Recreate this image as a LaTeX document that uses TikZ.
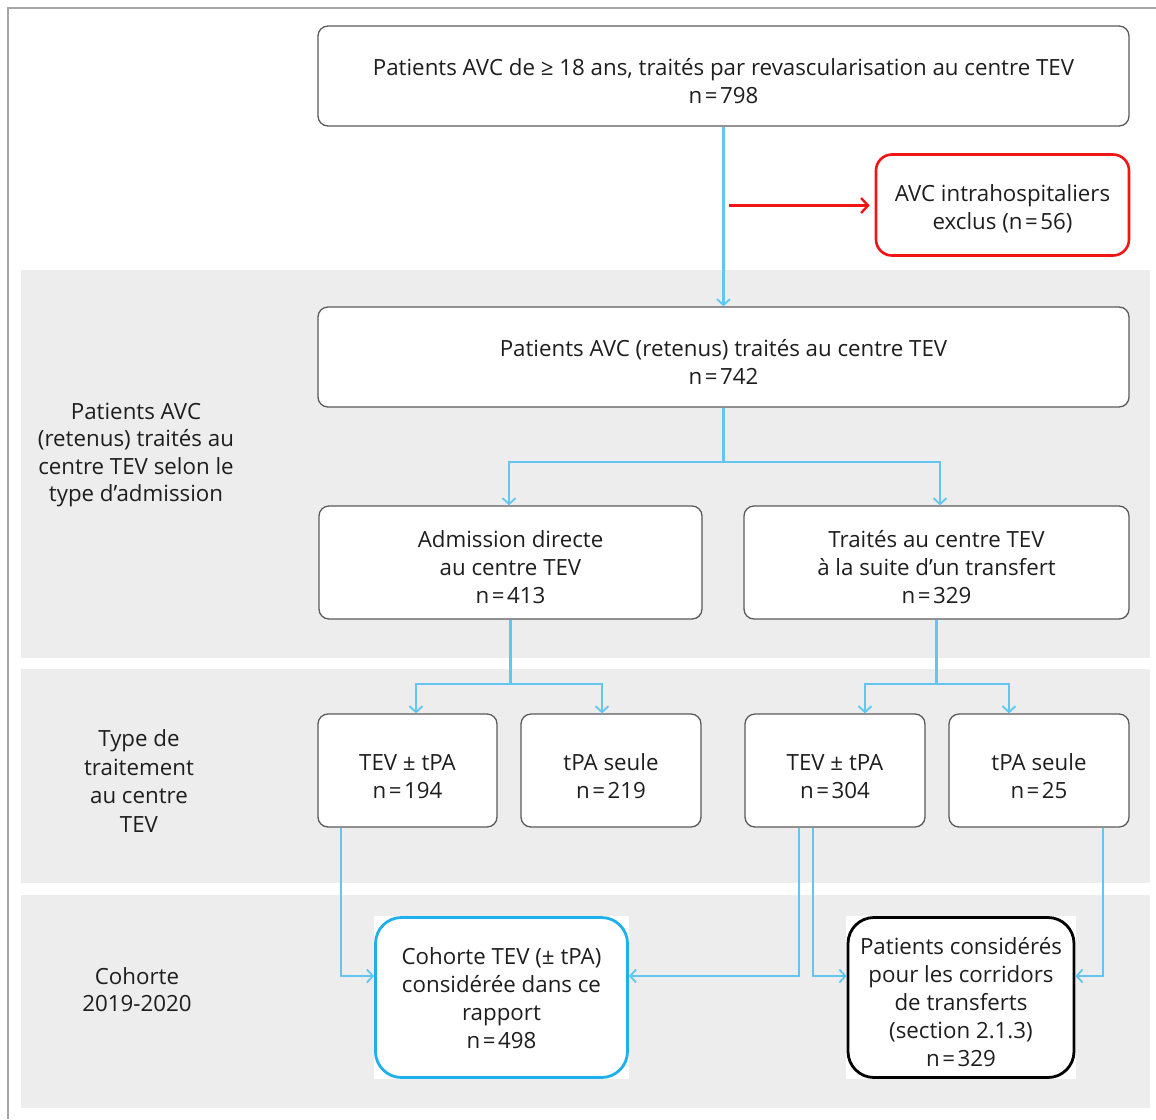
\documentclass[tikz,border=0pt]{standalone}
\usepackage{fontspec}
\setmainfont{Open Sans}
\usetikzlibrary{arrows.meta}
\definecolor{band}{HTML}{EDEDED}
\definecolor{lblue}{HTML}{62C6F0}
\definecolor{dblue}{HTML}{1EB0EC}
\definecolor{bord}{HTML}{5A5A5A}
\definecolor{txt}{HTML}{1E1E1E}
\definecolor{redc}{HTML}{F01414}
\tikzset{
  box/.style={draw=bord, line width=1.3pt, fill=white, rounded corners=10pt, inner sep=0pt, text=txt, font=\fontsize{22.3}{28}\selectfont},
  redbox/.style={box, draw=redc, line width=2.6pt, rounded corners=16pt},
  bluebox/.style={box, draw=dblue, line width=2.8pt, rounded corners=26pt},
  blackbox/.style={box, draw=black, line width=2.8pt, rounded corners=26pt},
  lab/.style={align=center, text=txt, font=\fontsize{22.3}{27.5}\selectfont, inner sep=0pt},
  arr/.style={draw=lblue, line width=2.1pt, -{Straight Barb[length=6pt,width=13pt,line width=1.8pt]}},
  redarr/.style={draw=redc, line width=2.6pt, -{Straight Barb[length=7pt,width=15pt,line width=2.4pt]}},
}
\newcommand{\nn}[1]{n\kern2.5pt=\kern2.5pt#1}
\newcommand{\tl}[2]{\raisebox{#1}[\height][\depth]{\begin{tabular}{@{}c@{}}#2\end{tabular}}}
\begin{document}
\begin{tikzpicture}[x=1pt,y=-1pt]
\useasboundingbox (0,0) rectangle (1156,1119);
% frame
\draw[draw=black!35, line width=1.4pt] (8,1119) -- (8,8) -- (1156,8);
% bands
\fill[band] (21,270) rectangle (1150,658);
\fill[band] (21,669) rectangle (1150,883);
\fill[band] (21,895) rectangle (1150,1108);
% white backgrounds of bottom boxes
\fill[white] (374,916) rectangle (629,1079);
\fill[white] (846,916) rectangle (1076,1079);
% nodes
\node[box, minimum width=811pt, minimum height=100pt] (top) at (723.5,76) {\tl{-8pt}{Patients AVC de ≥ 18 ans, traités par revascularisation au centre TEV\\\nn{798}}};
\node[redbox, minimum width=253pt, minimum height=101pt] (excl) at (1002.5,205) {\tl{-5pt}{AVC intrahospitaliers\\exclus (\nn{56})}};
\node[box, minimum width=811pt, minimum height=100pt] (ret) at (723.5,357) {\tl{-8pt}{Patients AVC (retenus) traités au centre TEV\\\nn{742}}};
\node[box, minimum width=383pt, minimum height=113pt] (dir) at (510.5,562.5) {\tl{-7pt}{Admission directe\\au centre TEV\\\nn{413}}};
\node[box, minimum width=385pt, minimum height=113pt] (tra) at (936.5,562.5) {\tl{-7pt}{Traités au centre TEV\\à la suite d’un transfert\\\nn{329}}};
\node[box, minimum width=179pt, minimum height=113pt] (a1) at (407.5,770.5) {\tl{-8pt}{TEV ± tPA\\\nn{194}}};
\node[box, minimum width=180pt, minimum height=113pt] (a2) at (611,770.5) {\tl{-8pt}{tPA seule\\\nn{219}}};
\node[box, minimum width=180pt, minimum height=113pt] (b1) at (835,770.5) {\tl{-8pt}{TEV ± tPA\\\nn{304}}};
\node[box, minimum width=180pt, minimum height=113pt] (b2) at (1039,770.5) {\tl{-8pt}{tPA seule\\\nn{25}}};
\node[bluebox, minimum width=252pt, minimum height=160pt] (coh) at (501.5,997.5) {\tl{-3pt}{Cohorte TEV (± tPA)\\considérée dans ce\\rapport\\\nn{498}}};
\node[blackbox, minimum width=226pt, minimum height=160pt] (pat) at (961,997.5) {\tl{-7.5pt}{Patients considérés\\pour les corridors\\de transferts\\(section 2.1.3)\\\nn{329}}};
% left labels
\node[lab] (l1) at (136,455) {Patients AVC\\(retenus) traités au\\centre TEV selon le\\type d’admission};
\node[lab, font=\fontsize{22.3}{28.7}\selectfont] (l2) at (139,781) {Type de\\traitement\\au centre\\TEV};
\node[lab] (l3) at (137,989.5) {Cohorte\\2019-2020};
% connectors
\coordinate (rs) at (729,205.5);
\draw[arr] (top.south) -- (ret.north);
\draw[redarr] (rs) -- ([xshift=-5pt,yshift=-0.5pt]excl.west);
\draw[arr] (ret.south) -- ++(0,54) -| ([xshift=-1.5pt]dir.north);
\draw[arr] (ret.south) -- ++(0,54) -| ([xshift=3.5pt]tra.north);
\draw[arr] (dir.south) -- ++(0,64) -| ([xshift=8.5pt]a1.north);
\draw[arr] (dir.south) -- ++(0,64) -| ([xshift=-9pt]a2.north);
\draw[arr] (tra.south) -- ++(0,64) -| ([xshift=30pt]b1.north);
\draw[arr] (tra.south) -- ++(0,64) -| ([xshift=-30pt]b2.north);
\draw[arr] ([xshift=-66.5pt]a1.south) |- ([yshift=21.5pt]coh.west);
\draw[arr] ([xshift=-36pt]b1.south) |- ([yshift=21.5pt]coh.east);
\draw[arr] ([xshift=-22pt]b1.south) |- ([yshift=21.5pt]pat.west);
\draw[arr] ([xshift=64pt]b2.south) |- ([yshift=21.5pt]pat.east);
\end{tikzpicture}
\end{document}
